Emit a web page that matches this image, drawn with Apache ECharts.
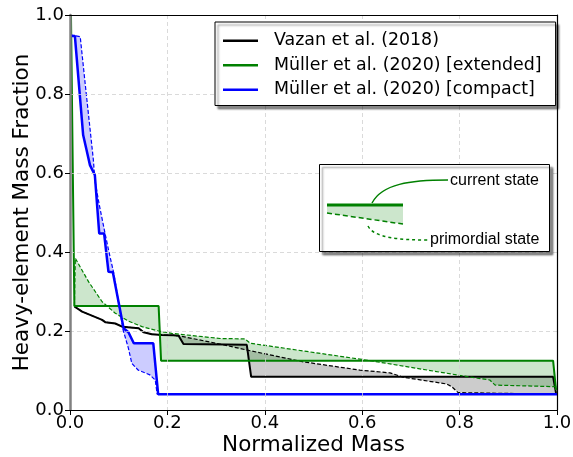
<!DOCTYPE html>
<html>
<head>
<meta charset="utf-8">
<script src="https://cdn.jsdelivr.net/npm/echarts@6/dist/echarts.min.js"></script>
<style>html,body{margin:0;padding:0;background:#fff}#c{width:573px;height:457px}</style>
</head>
<body>
<div id="c"></div>
<script>
// ---- data ----
const seriesNames = ['Vazan et al. (2018)', 'Müller et al. (2020) [extended]', 'Müller et al. (2020) [compact]'];
const tickValues = [0.0, 0.2, 0.4, 0.6, 0.8, 1.0];

const vazanMass = [0.009, 0.025, 0.066, 0.073, 0.093, 0.107, 0.141, 0.151, 0.168, 0.189, 0.212, 0.223, 0.233, 0.363, 0.372, 0.992, 0.998];
const vazanZ    = [0.262, 0.249, 0.228, 0.222, 0.219, 0.211, 0.207, 0.197, 0.192, 0.190, 0.189, 0.188, 0.167, 0.165, 0.084, 0.084, 0.043];

const vazanPrimMass = [0.009, 0.025, 0.066, 0.073, 0.093, 0.107, 0.141, 0.151, 0.168, 0.189, 0.212, 0.223, 0.308, 0.370, 0.479, 0.595, 0.657, 0.684, 0.773, 0.784, 0.797, 1.000];
const vazanPrimZ    = [0.262, 0.249, 0.228, 0.222, 0.219, 0.211, 0.207, 0.197, 0.192, 0.190, 0.189, 0.188, 0.167, 0.150, 0.122, 0.101, 0.094, 0.083, 0.066, 0.059, 0.044, 0.040];

const extMass = [0.002, 0.009, 0.182, 0.187, 0.992, 0.998];
const extZ    = [1.000, 0.263, 0.263, 0.125, 0.125, 0.051];

const extPrimMass = [0.009, 0.011, 0.038, 0.066, 0.093, 0.120, 0.148, 0.182, 0.209, 0.308, 0.359, 0.370, 0.616, 0.808, 0.862, 0.873, 0.999];
const extPrimZ    = [0.263, 0.384, 0.325, 0.274, 0.245, 0.225, 0.211, 0.200, 0.194, 0.181, 0.180, 0.169, 0.125, 0.086, 0.076, 0.063, 0.059];

const cmpMass = [0.000, 0.010, 0.027, 0.034, 0.041, 0.051, 0.060, 0.070, 0.079, 0.088, 0.099, 0.110, 0.120, 0.131, 0.171, 0.181, 1.000];
const cmpZ    = [0.947, 0.947, 0.696, 0.658, 0.620, 0.595, 0.447, 0.447, 0.350, 0.349, 0.278, 0.207, 0.197, 0.169, 0.169, 0.040, 0.040];

const cmpPrimMass = [0.000, 0.021, 0.031, 0.048, 0.051, 0.060, 0.072, 0.080, 0.090, 0.099, 0.109, 0.120, 0.127, 0.140, 0.164, 0.175, 0.179, 1.000];
const cmpPrimZ    = [0.950, 0.945, 0.828, 0.633, 0.582, 0.520, 0.447, 0.400, 0.346, 0.278, 0.203, 0.156, 0.118, 0.101, 0.089, 0.076, 0.040, 0.040];

// ---- helpers ----
function pairs(xs, ys) { return xs.map((x, i) => [x, ys[i]]); }
function fillBetween(name, xa, ya, xb, yb, color, z) {
  return {
    name: name, type: 'custom', silent: true, z: z, clip: true,
    data: [[0, 0]],
    renderItem: function (params, api) {
      const pts = [];
      for (let i = 0; i < xa.length; i++) pts.push(api.coord([xa[i], ya[i]]));
      for (let i = xb.length - 1; i >= 0; i--) pts.push(api.coord([xb[i], yb[i]]));
      return { type: 'polygon', shape: { points: pts }, style: { fill: color, stroke: null } };
    }
  };
}
function lineSeries(name, xs, ys, color, width, dashed, z) {
  return {
    name: name, type: 'line', data: pairs(xs, ys), showSymbol: false, symbol: 'none',
    silent: true, z: z, animation: false,
    itemStyle: { color: color },
    lineStyle: { color: color, width: width, type: dashed ? [4, 2] : 'solid' }
  };
}

const font = 'DejaVu Sans';
const fmt = v => tickValues.find(t => Math.abs(t - v) < 1e-9).toFixed(1);
const frameAxis = {
  type: 'value', min: 0, max: 1, interval: 0.2,
  axisLine: { show: true, onZero: false, lineStyle: { color: '#000', width: 1.2 } },
  axisTick: { show: false }, axisLabel: { show: false }, splitLine: { show: false }, z: 10
};
const chart = echarts.init(document.getElementById('c'), null, { renderer: 'canvas' });
chart.setOption({
  animation: false,
  backgroundColor: '#ffffff',
  grid: { left: 70, right: 16, top: 15, bottom: 47, show: false, containLabel: false, outerBoundsMode: 'none' },
  xAxis: [{
    type: 'value', min: 0, max: 1, interval: 0.2, z: 10,
    name: 'Normalized Mass', nameLocation: 'middle', nameGap: 24, nameMoveOverlap: false,
    nameTextStyle: { fontFamily: font, fontSize: 21.5, color: '#000' },
    axisLine: { show: true, onZero: false, lineStyle: { color: '#000', width: 1.2 } },
    axisTick: { show: true, inside: false, length: 5, lineStyle: { color: '#000', width: 1 } },
    axisLabel: { fontFamily: font, fontSize: 18, color: '#000', margin: 4, formatter: fmt },
    splitLine: { show: true, lineStyle: { color: '#d0d0d0', width: 0.8, type: [4, 3] } }
  }, Object.assign({ position: 'top' }, frameAxis)],
  yAxis: [{
    type: 'value', min: 0, max: 1, interval: 0.2, z: 10,
    name: 'Heavy-element Mass Fraction', nameLocation: 'middle', nameGap: 37, nameMoveOverlap: false,
    nameTextStyle: { fontFamily: font, fontSize: 21.5, color: '#000' },
    axisLine: { show: true, onZero: false, lineStyle: { color: '#808080', width: 2.5 } },
    axisTick: { show: true, inside: false, length: 5, lineStyle: { color: '#000', width: 1 } },
    axisLabel: { fontFamily: font, fontSize: 18, color: '#000', margin: 6, formatter: fmt },
    splitLine: { show: true, lineStyle: { color: '#d0d0d0', width: 0.8, type: [4, 3] } }
  }, Object.assign({ position: 'right' }, frameAxis)],
  legend: {
    data: seriesNames, orient: 'vertical', left: 215, top: 22,
    icon: 'rect', itemWidth: 35, itemHeight: 2.5, itemGap: 7,
    padding: [10, 14, 7, 8],
    backgroundColor: '#fff', borderColor: '#000', borderWidth: 1, borderRadius: 0,
    shadowColor: 'rgba(0,0,0,0.45)', shadowOffsetX: 3, shadowOffsetY: 3, shadowBlur: 2,
    textStyle: { fontFamily: font, fontSize: 17.4, color: '#000', padding: [0, 0, 0, 11], lineHeight: 17.5 },
    selectedMode: false, z: 20
  },
  series: [
    fillBetween('vfill', vazanMass, vazanZ, vazanPrimMass, vazanPrimZ, 'rgba(0,0,0,0.2)', 1),
    fillBetween('efill', extMass, extZ, extPrimMass, extPrimZ, 'rgba(0,128,0,0.2)', 1),
    fillBetween('cfill', cmpMass, cmpZ, cmpPrimMass, cmpPrimZ, 'rgba(0,0,255,0.2)', 1),
    lineSeries('vprim', vazanPrimMass, vazanPrimZ, '#000000', 1.2, true, 3),
    lineSeries(seriesNames[0], vazanMass, vazanZ, '#000000', 2, false, 3),
    lineSeries('eprim', extPrimMass, extPrimZ, '#008000', 1.2, true, 4),
    lineSeries(seriesNames[1], extMass, extZ, '#008000', 2, false, 4),
    lineSeries('cprim', cmpPrimMass, cmpPrimZ, '#0000ff', 1.2, true, 5),
    lineSeries(seriesNames[2], cmpMass, cmpZ, '#0000ff', 2.5, false, 5)
  ],
  graphic: [
    { type: 'rect', z: 100, shape: { x: 319.5, y: 164.5, width: 230, height: 87 },
      style: { fill: '#fff', stroke: '#000', lineWidth: 1, shadowColor: 'rgba(0,0,0,0.45)', shadowOffsetX: 3, shadowOffsetY: 3, shadowBlur: 2 } },
    { type: 'polygon', z: 101, shape: { points: [[327, 205], [403, 205], [403, 224], [327, 213]] }, style: { fill: 'rgba(0,128,0,0.2)' } },
    { type: 'line', z: 102, shape: { x1: 327, y1: 213, x2: 403, y2: 224 }, style: { stroke: '#008000', lineWidth: 1.5, lineDash: [5, 3] } },
    { type: 'line', z: 102, shape: { x1: 327, y1: 205, x2: 403, y2: 205 }, style: { stroke: '#008000', lineWidth: 3 } },
    { type: 'bezierCurve', z: 102, shape: { x1: 372, y1: 203, cpx1: 382, cpy1: 184, cpx2: 410, cpy2: 180, x2: 448, y2: 180 }, style: { stroke: '#008000', lineWidth: 1.5, fill: null } },
    { type: 'bezierCurve', z: 102, shape: { x1: 368, y1: 226, cpx1: 374, cpy1: 238, cpx2: 400, cpy2: 240, x2: 428, y2: 240 }, style: { stroke: '#008000', lineWidth: 1.5, fill: null, lineDash: [3, 3] } },
    { type: 'text', z: 103, style: { x: 450, y: 181, text: 'current state', fontFamily: 'Liberation Sans', fontSize: 16, fill: '#000', textVerticalAlign: 'middle', verticalAlign: 'middle' } },
    { type: 'text', z: 103, style: { x: 430, y: 240, text: 'primordial state', fontFamily: 'Liberation Sans', fontSize: 16, fill: '#000', textVerticalAlign: 'middle', verticalAlign: 'middle' } }
  ]
});
</script>
</body>
</html>
